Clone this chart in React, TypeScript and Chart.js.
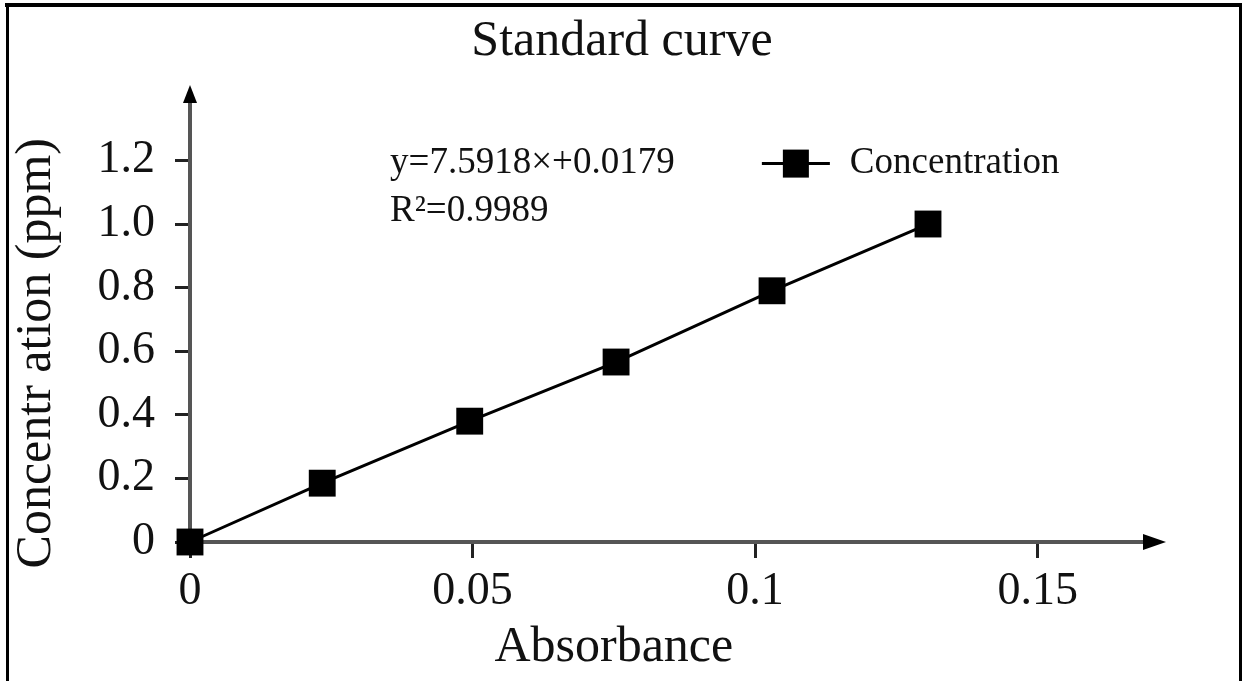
import React, { useEffect, useRef } from 'react';
import { Chart, registerables } from 'chart.js';

Chart.register(...registerables);

// ---- data ----
const absorbance = [0, 0.0234, 0.0495, 0.0754, 0.103, 0.1306];
const concentration = [0, 0.185, 0.38, 0.566, 0.79, 1.0];

const xTickValues = [0, 0.05, 0.1, 0.15];
const xTickLabels = ['0', '0.05', '0.1', '0.15'];
const yTickValues = [0, 0.2, 0.4, 0.6, 0.8, 1.0, 1.2];
const yTickLabels = ['0', '0.2', '0.4', '0.6', '0.8', '1.0', '1.2'];

const chartTitle = 'Standard curve';
const xAxisTitle = 'Absorbance';
const yAxisTitle = 'Concentr ation (ppm)';
const seriesLabel = 'Concentration';
const equationLines = ['y=7.5918×+0.0179', 'R²=0.9989'];

const X_MAX = 0.169;
const Y_MAX = 1.39;

const FONT = "'Liberation Serif', 'Times New Roman', serif";
const INK = '#111';

const decorPlugin = {
  id: 'decor',
  beforeDraw(chart: any) {
    const { ctx, width, height } = chart;
    ctx.save();
    ctx.fillStyle = '#ffffff';
    ctx.fillRect(0, 0, width, height);
    ctx.restore();
  },
  afterDraw(chart: any) {
    const { ctx, chartArea: a, width, height } = chart;
    const xs = chart.scales.x;
    const ys = chart.scales.y;
    ctx.save();

    // axis arrow heads
    ctx.fillStyle = '#000';
    ctx.beginPath();
    ctx.moveTo(a.left, a.top - 15);
    ctx.lineTo(a.left - 7, a.top + 3);
    ctx.lineTo(a.left + 7, a.top + 3);
    ctx.closePath();
    ctx.fill();
    ctx.beginPath();
    ctx.moveTo(a.right + 21, a.bottom);
    ctx.lineTo(a.right - 2, a.bottom - 8);
    ctx.lineTo(a.right - 2, a.bottom + 8);
    ctx.closePath();
    ctx.fill();

    // axis titles
    ctx.fillStyle = INK;
    ctx.font = `50px ${FONT}`;
    ctx.textAlign = 'center';
    ctx.textBaseline = 'middle';
    ctx.fillText(xAxisTitle, xs.getPixelForValue(0.075), 648);
    ctx.save();
    ctx.translate(37, ys.getPixelForValue(0.6) + 2);
    ctx.rotate(-Math.PI / 2);
    ctx.fillText(yAxisTitle, 0, 0);
    ctx.restore();

    // regression equation
    ctx.font = `37px ${FONT}`;
    ctx.textAlign = 'left';
    const ex = xs.getPixelForValue(0.0354);
    ctx.fillText(equationLines[0], ex, ys.getPixelForValue(1.19));
    ctx.fillText(equationLines[1], ex, ys.getPixelForValue(1.04));

    // legend (line + square marker + label)
    const lx = xs.getPixelForValue(0.1012);
    const ly = ys.getPixelForValue(1.19);
    ctx.strokeStyle = '#000';
    ctx.lineWidth = 3;
    ctx.beginPath();
    ctx.moveTo(lx, ly);
    ctx.lineTo(lx + 68, ly);
    ctx.stroke();
    ctx.fillStyle = '#000';
    ctx.fillRect(lx + 34 - 13, ly - 14, 26, 28);
    ctx.fillStyle = INK;
    ctx.fillText(seriesLabel, lx + 88, ly);

    // picture frame
    ctx.fillStyle = '#000';
    ctx.fillRect(5, 3, width - 7, 4);
    ctx.fillRect(6, 3, 3, height - 3);
    ctx.fillRect(width - 5, 3, 3, height - 3);

    ctx.restore();
  },
};

export default function App() {
  const ref = useRef<HTMLCanvasElement>(null);

  useEffect(() => {
    const canvas = ref.current;
    if (!canvas) return;
    const chart = new Chart(canvas, {
      type: 'scatter',
      data: {
        datasets: [
          {
            label: seriesLabel,
            data: absorbance.map((x, i) => ({ x, y: concentration[i] })),
            showLine: true,
            borderColor: '#000',
            borderWidth: 3,
            backgroundColor: '#000',
            pointStyle: 'rect',
            pointRadius: 19,
            pointHoverRadius: 19,
            pointBorderWidth: 0,
            clip: false,
          } as any,
        ],
      },
      options: {
        responsive: false,
        maintainAspectRatio: false,
        animation: false,
        events: [],
        layout: { padding: { left: 99, right: 99, top: 0, bottom: 0 } },
        plugins: {
          legend: { display: false },
          tooltip: { enabled: false },
          title: {
            display: true,
            text: chartTitle,
            color: INK,
            font: { family: FONT, size: 50, weight: 'normal' },
            padding: { top: 12, bottom: 28 },
          },
        },
        scales: {
          x: {
            type: 'linear',
            min: 0,
            max: X_MAX,
            afterBuildTicks: (s: any) => {
              s.ticks = xTickValues.map((v) => ({ value: v }));
            },
            afterFit: (s: any) => {
              s.height = 139;
            },
            ticks: {
              color: INK,
              padding: 6,
              font: { family: FONT, size: 46 },
              callback: (_v: any, i: number) => xTickLabels[i],
              maxRotation: 0,
            },
            grid: {
              display: true,
              drawOnChartArea: false,
              drawTicks: true,
              tickLength: 16,
              tickWidth: 3,
              tickColor: '#222',
            },
            border: { display: true, color: '#555', width: 4 },
          },
          y: {
            type: 'linear',
            min: 0,
            max: Y_MAX,
            afterBuildTicks: (s: any) => {
              s.ticks = yTickValues.map((v) => ({ value: v }));
            },
            afterFit: (s: any) => {
              s.width = 91;
            },
            ticks: {
              color: INK,
              padding: 20,
              font: { family: FONT, size: 46 },
              callback: (_v: any, i: number) => yTickLabels[i],
            },
            grid: {
              display: true,
              drawOnChartArea: false,
              drawTicks: true,
              tickLength: 15,
              tickWidth: 3,
              tickColor: '#222',
            },
            border: { display: true, color: '#555', width: 4 },
          },
        },
      },
      plugins: [decorPlugin],
    });
    return () => chart.destroy();
  }, []);

  return (
    <div style={{ position: 'fixed', left: 0, top: 0, width: 1244, height: 681, background: '#fff' }}>
      <canvas ref={ref} width={1244} height={681} style={{ display: 'block' }} />
    </div>
  );
}
